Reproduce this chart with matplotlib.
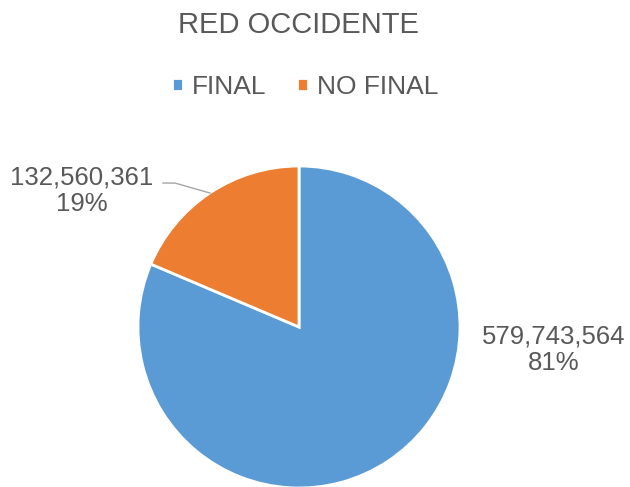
import matplotlib.pyplot as plt

plt.rcParams['font.family'] = ['Liberation Sans', 'DejaVu Sans']

# data
categories = ["FINAL", "NO FINAL"]
values = [579743564, 132560361]
colors = ["#5B9BD5", "#ED7D31"]
text_color = "#595959"

fig = plt.figure(figsize=(6.3, 4.87), dpi=100)
# pie centre ~ (299, 327) px, radius ~161 px
cx, cy, r = 299, 327, 161
ax = fig.add_axes([(cx - r) / 630, (487 - cy - r) / 487, 2 * r / 630, 2 * r / 487])

wedges, _ = ax.pie(values, colors=colors, startangle=90, counterclock=False,
                   radius=1.0, wedgeprops=dict(edgecolor="white", linewidth=2))
ax.set_xlim(-1, 1)
ax.set_ylim(-1, 1)
ax.set_aspect("equal")
ax.axis("off")

total = sum(values)
labels = ["{:,}\n{:.0f}%".format(v, 100 * v / total) for v in values]

# data labels
ax.text(1.58, -0.14, labels[0], ha="center", va="center", fontsize=18.5,
        color=text_color, linespacing=1.12, clip_on=False)
ax.text(-1.35, 0.845, labels[1], ha="center", va="center", fontsize=18.5,
        color=text_color, linespacing=1.12, clip_on=False)
# leader line for small slice
ax.plot([-0.845, -0.77, -0.553], [0.894, 0.894, 0.832], color="#A6A6A6",
        lw=1, clip_on=False)

fig.text(299 / 630, 1 - 25 / 487, "RED OCCIDENTE", ha="center", va="center",
         fontsize=21, color=text_color)

leg = fig.legend(wedges, categories, loc="center", ncol=2,
                 bbox_to_anchor=(305 / 630, 1 - 87 / 487), frameon=False,
                 fontsize=19, handlelength=0.42, handleheight=0.42,
                 handletextpad=0.35, columnspacing=1.15)
for t in leg.get_texts():
    t.set_color(text_color)

fig.savefig("out.png", dpi=100)
